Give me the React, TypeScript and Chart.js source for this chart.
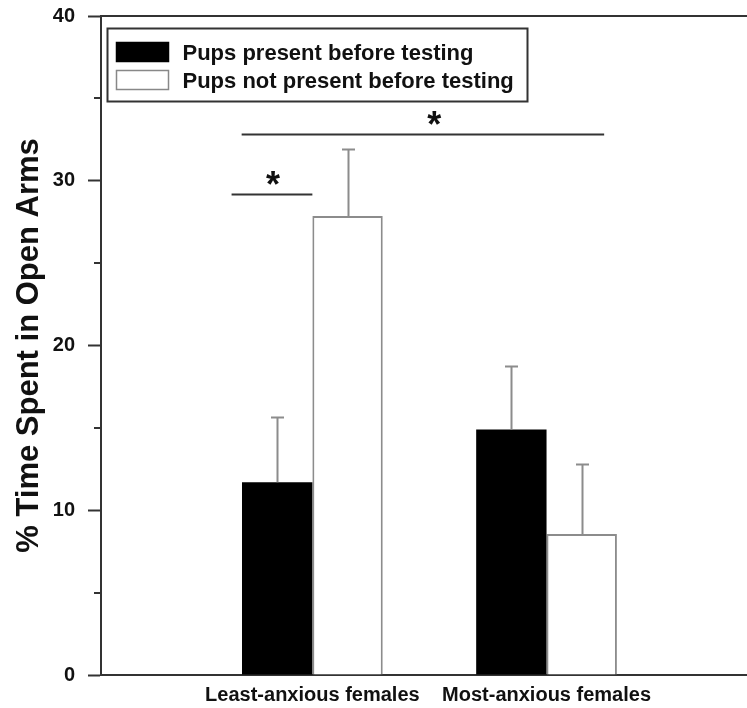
import React, { useEffect, useRef } from 'react';
import { Chart, registerables } from 'chart.js';

Chart.register(...registerables);

const categories = ['Least-anxious females', 'Most-anxious females'];
const seriesLabels = ['Pups present before testing', 'Pups not present before testing'];
const presentValues = [11.7, 14.9];
const presentErrors = [3.98, 3.86];
const notPresentValues = [27.86, 8.56];
const notPresentErrors = [4.07, 4.23];
const yTickValues = [0, 10, 20, 30, 40];
const yMinorTicks = [5, 15, 25, 35];
const yTitle = '% Time Spent in Open Arms';
// significance brackets in data units (x: category position, y: % value)
const sigX1 = [0.655, 0.698];
const sigX2 = [1.0, 2.246];
const sigY = [29.2, 32.85];
const starX = [0.832, 1.52];
const starY = [30.15, 33.8];

const FONT = 'Arial, "Liberation Sans", sans-serif';

const decorPlugin = {
  id: 'decor',
  afterDatasetsDraw(chart: any) {
    const { ctx, chartArea, scales } = chart;
    const xs = scales.x;
    const ys = scales.y;
    ctx.save();
    // error bars (upper only)
    const errs = [presentErrors, notPresentErrors];
    chart.data.datasets.forEach((ds: any, di: number) => {
      const meta = chart.getDatasetMeta(di);
      meta.data.forEach((el: any, j: number) => {
        const v = ds.data[j].y;
        const top = Math.round(ys.getPixelForValue(v + errs[di][j])) + 0.5;
        const cx = Math.round(el.x) + 0.5;
        ctx.strokeStyle = '#8c8c8c';
        ctx.lineWidth = 2;
        ctx.beginPath();
        ctx.moveTo(cx, el.y);
        ctx.lineTo(cx, top);
        ctx.moveTo(cx - 6.5, top);
        ctx.lineTo(cx + 6.5, top);
        ctx.stroke();
      });
    });
    // top frame line
    ctx.strokeStyle = '#333';
    ctx.lineWidth = 2;
    ctx.beginPath();
    ctx.moveTo(chartArea.left, chartArea.top);
    ctx.lineTo(chart.width, chartArea.top);
    ctx.stroke();
    // minor ticks
    ctx.lineWidth = 2;
    yMinorTicks.forEach((v) => {
      const py = Math.round(ys.getPixelForValue(v));
      ctx.beginPath();
      ctx.moveTo(chartArea.left - 7, py);
      ctx.lineTo(chartArea.left, py);
      ctx.stroke();
    });
    // significance lines and stars
    for (let i = 0; i < sigY.length; i++) {
      const py = Math.round(ys.getPixelForValue(sigY[i])) + 0.5;
      ctx.strokeStyle = '#333';
      ctx.lineWidth = 2;
      ctx.beginPath();
      ctx.moveTo(xs.getPixelForValue(sigX1[i]), py);
      ctx.lineTo(xs.getPixelForValue(sigX2[i]), py);
      ctx.stroke();
      ctx.fillStyle = '#111';
      ctx.font = `bold 36px ${FONT}`;
      ctx.textAlign = 'center';
      ctx.textBaseline = 'alphabetic';
      const m = ctx.measureText('*');
      const cy = ys.getPixelForValue(starY[i]);
      const yy = cy + (m.actualBoundingBoxAscent - m.actualBoundingBoxDescent) / 2;
      ctx.fillText('*', xs.getPixelForValue(starX[i]), yy);
    }
    ctx.restore();
  },
  afterDraw(chart: any) {
    const { ctx, chartArea } = chart;
    ctx.save();
    const bx = chartArea.left + 6.5;
    const by = chartArea.top + 12.5;
    const bw = 420;
    const bh = 73;
    ctx.fillStyle = '#fff';
    ctx.fillRect(bx, by, bw, bh);
    ctx.strokeStyle = '#333';
    ctx.lineWidth = 2;
    ctx.strokeRect(bx, by, bw, bh);
    const sw = [
      { y: by + 14, stroke: '#000' },
      { y: by + 42, stroke: '#888' },
    ];
    chart.data.datasets.forEach((ds: any, i: number) => {
      const s = sw[i];
      ctx.fillStyle = ds.backgroundColor;
      ctx.fillRect(bx + 9, s.y, 52, 19);
      ctx.strokeStyle = s.stroke;
      ctx.lineWidth = 1.5;
      ctx.strokeRect(bx + 9, s.y, 52, 19);
      ctx.fillStyle = '#111';
      ctx.font = `bold 22px ${FONT}`;
      ctx.textAlign = 'left';
      ctx.textBaseline = 'alphabetic';
      ctx.fillText(ds.label, bx + 75, s.y + 17);
    });
    ctx.restore();
  },
};

export default function App() {
  const ref = useRef<HTMLCanvasElement | null>(null);
  useEffect(() => {
    if (!ref.current) return;
    const chart = new Chart(ref.current, {
      type: 'bar',
      data: {
        datasets: [
          {
            label: seriesLabels[0],
            data: categories.map((_, i) => ({ x: i + 1, y: presentValues[i] })),
            backgroundColor: '#000',
            borderWidth: 0,
          },
          {
            label: seriesLabels[1],
            data: categories.map((_, i) => ({ x: i + 1, y: notPresentValues[i] })),
            backgroundColor: '#fff',
            borderColor: '#8c8c8c',
            borderWidth: 2,
          },
        ],
      },
      options: {
        responsive: false,
        animation: false,
        categoryPercentage: 0.601,
        barPercentage: 1.0,
        layout: { padding: { top: 16, right: 0, left: 0, bottom: 0 } },
        plugins: { legend: { display: false }, tooltip: { enabled: false }, title: { display: false } },
        scales: {
          x: {
            type: 'linear',
            min: 0.0974,
            max: 2.856,
            offset: false,
            afterBuildTicks: (s: any) => {
              s.ticks = categories.map((_, i) => ({ value: i + 1 }));
            },
            afterFit: (s: any) => {
              s.height = 33;
              s.paddingLeft = 0;
              s.paddingRight = 0;
            },
            ticks: {
              autoSkip: false,
              maxRotation: 0,
              padding: 8,
              color: '#111',
              font: { family: FONT, size: 20, weight: 'bold' },
              callback: (v: any) => categories[Math.round(Number(v)) - 1] ?? '',
            },
            grid: { display: false, drawTicks: false },
            border: { display: true, color: '#333', width: 2 },
          },
          y: {
            min: 0,
            max: 40,
            afterBuildTicks: (s: any) => {
              s.ticks = yTickValues.map((v) => ({ value: v }));
            },
            afterFit: (s: any) => {
              s.width = 101;
              s.paddingTop = 0;
              s.paddingBottom = 0;
            },
            ticks: {
              padding: 13,
              color: '#111',
              font: { family: FONT, size: 20, weight: 'bold' },
            },
            grid: {
              display: true,
              drawOnChartArea: false,
              drawTicks: true,
              tickLength: 13,
              tickColor: '#333',
              tickWidth: 2,
            },
            border: { display: true, color: '#333', width: 2 },
            title: {
              display: true,
              text: yTitle,
              color: '#111',
              font: { family: FONT, size: 31, weight: 'bold' },
              padding: { top: 11, bottom: 0 },
            },
          },
        },
      },
      plugins: [decorPlugin],
    } as any);
    return () => chart.destroy();
  }, []);
  return (
    <div style={{ position: 'fixed', left: 0, top: 0, width: 747, height: 708, background: '#fff' }}>
      <canvas ref={ref} width={747} height={708} style={{ display: 'block', width: 747, height: 708 }} />
    </div>
  );
}
